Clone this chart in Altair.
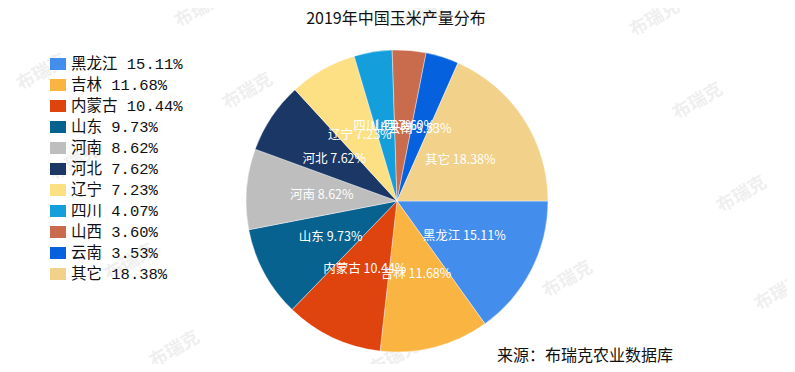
import math
import altair as alt
import pandas as pd

# ---- data ----
provinces = ["黑龙江", "吉林", "内蒙古", "山东", "河南", "河北", "辽宁", "四川", "山西", "云南", "其它"]
shares = [15.11, 11.68, 10.44, 9.73, 8.62, 7.62, 7.23, 4.07, 3.60, 3.53, 18.38]
palette = ["#438ded", "#fab441", "#e0440e", "#08628f", "#bebebe", "#1b3766",
           "#fde083", "#149edc", "#c96c4d", "#0561de", "#f2d18a"]
title_text = "2019年中国玉米产量分布"
source_text = "来源：布瑞克农业数据库"
watermark_text = "布瑞克"
watermark_xy = [(34, 65), (67, 155), (122, 255), (167, 342), (192, 2), (240, 84),
                (387, 350), (420, 4), (560, 272), (647, 11), (690, 94), (734, 187), (772, 285)]

df = pd.DataFrame({
    "name": provinces,
    "pct": shares,
    "idx": list(range(len(provinces))),
})
df["label"] = [f"{n} {v:.2f}%" for n, v in zip(provinces, shares)]

wm = pd.DataFrame({"x": [p[0] for p in watermark_xy], "y": [p[1] for p in watermark_xy],
                   "t": [watermark_text] * len(watermark_xy)})

W, H = 779, 356
CX, CY, R = 389, 193, 151
CJK = "Noto Sans CJK SC"
MONO = '"Liberation Mono", "Noto Sans CJK SC"'

color = alt.Color("name:N", scale=alt.Scale(domain=provinces, range=palette), legend=None)
theta_scale = alt.Scale(range=[math.pi / 2, math.pi / 2 + 2 * math.pi])

watermarks = alt.Chart(wm).mark_text(
    font=CJK, fontSize=18, fontWeight="bold", angle=330, color="#efefef"
).encode(
    x=alt.X("x:Q", scale=None, axis=None),
    y=alt.Y("y:Q", scale=None, axis=None),
    text="t:N",
)

base = alt.Chart(df)

pie = base.mark_arc(outerRadius=R, stroke="white", strokeWidth=0.4).encode(
    theta=alt.Theta("pct:Q", stack=True, scale=theta_scale),
    color=color,
    order=alt.Order("idx:Q"),
    x=alt.value(CX),
    y=alt.value(CY),
)

pie_labels = base.mark_text(radius=R / 2, font=CJK, fontSize=12.5, color="white",
                            align="center", baseline="middle").encode(
    theta=alt.Theta("pct:Q", stack=True, scale=theta_scale),
    order=alt.Order("idx:Q"),
    text="label:N",
    x=alt.value(CX),
    y=alt.value(CY),
)

ly = alt.Y("name:N", scale=alt.Scale(type="point", domain=provinces, range=[56, 266], padding=0),
           axis=None)

legend_sym = base.mark_point(shape="M-1,-0.75H1V0.75H-1Z", filled=True, opacity=1, size=256).encode(
    x=alt.value(50),
    y=ly,
    color=color,
)
legend_txt = base.mark_text(font=MONO, fontSize=15.5, align="left", baseline="middle", color="#111").encode(
    x=alt.value(63),
    y=ly,
    text="label:N",
)

title = alt.Chart(pd.DataFrame({"t": [title_text]})).mark_text(
    font=CJK, fontSize=16, color="#111", align="center", baseline="middle"
).encode(x=alt.value(388), y=alt.value(11), text="t:N")

source = alt.Chart(pd.DataFrame({"t": [source_text]})).mark_text(
    font=CJK, fontSize=16, color="#111", align="left", baseline="bottom"
).encode(x=alt.value(489), y=alt.value(356), text="t:N")

chart = alt.layer(watermarks, pie, pie_labels, legend_sym, legend_txt, title, source).resolve_scale(
    x="independent", y="independent"
).properties(
    width=W, height=H, autosize=alt.AutoSizeParams(type="none"), padding=0
).configure_view(stroke=None)

chart.save("out.html", embed_options={"renderer": "svg", "actions": False})
